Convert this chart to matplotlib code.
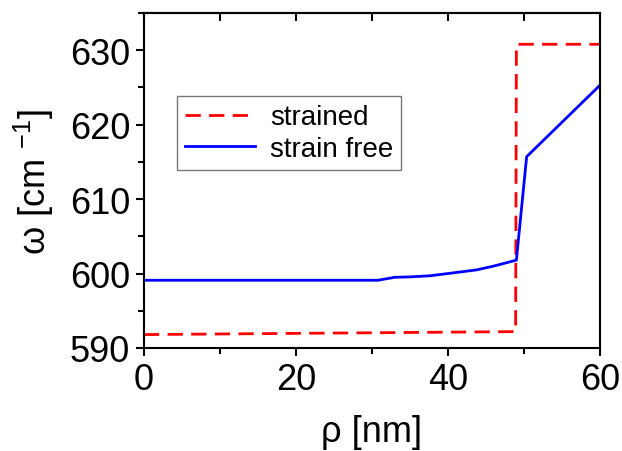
import matplotlib
matplotlib.use('Agg')
import matplotlib.pyplot as plt
from matplotlib.ticker import MultipleLocator

plt.rcParams['font.family'] = ['Liberation Sans', 'DejaVu Sans']
plt.rcParams['mathtext.fontset'] = 'custom'
plt.rcParams['mathtext.rm'] = 'Liberation Sans'
plt.rcParams['mathtext.it'] = 'Liberation Sans'

# strained (red dashed): step near rho ~ 49 nm
strained_rho = [0, 48.9, 49.0, 60]
strained_omega = [591.8, 592.2, 630.8, 630.8]

# strain free (blue solid)
free_rho = [0, 30.8, 33.0, 35.0, 37.6, 40.0, 43.8, 46.0, 49.0, 50.35, 60]
free_omega = [599.1, 599.1, 599.5, 599.55, 599.7, 600.0, 600.5, 601.0, 601.8, 615.7, 625.3]

fig = plt.figure(figsize=(6.22, 4.52), dpi=100)
ax = fig.add_axes([0.2315, 0.2279, 0.7331, 0.7411])

ax.plot(strained_rho, strained_omega, color='#ff0000', lw=2, dashes=(5.5, 3), label='strained')
ax.plot(free_rho, free_omega, color='#0000ff', lw=2, label='strain free')

ax.set_xlim(0, 60)
ax.set_ylim(590, 635)
ax.xaxis.set_major_locator(MultipleLocator(20))
ax.xaxis.set_minor_locator(MultipleLocator(10))
ax.yaxis.set_major_locator(MultipleLocator(10))
ax.yaxis.set_minor_locator(MultipleLocator(5))

for s in ax.spines.values():
    s.set_linewidth(1.5)

ax.tick_params(which='both', direction='out', width=1.5, labelsize=26, pad=4,
               top=False, right=False)
ax.tick_params(which='major', length=6)
ax.tick_params(which='minor', length=4)

# inward ticks on the top spine, like the original
sec = ax.secondary_xaxis('top')
sec.xaxis.set_major_locator(MultipleLocator(20))
sec.xaxis.set_minor_locator(MultipleLocator(10))
sec.tick_params(which='both', direction='in', width=1.5, length=6, labeltop=False)
sec.spines['top'].set_linewidth(1.5)

ax.set_xlabel('ρ [nm]', fontsize=26, labelpad=12)
ax.set_ylabel('ω [cm $^{-1}$]', fontsize=26, labelpad=10)

leg = ax.legend(loc='upper left', bbox_to_anchor=(0.072, 0.752), borderaxespad=0,
                fontsize=20, frameon=True, fancybox=False, handlelength=2.5,
                handletextpad=0.55, labelspacing=0.2, borderpad=0.3)
leg.get_frame().set_edgecolor('#555555')
leg.get_frame().set_linewidth(1.0)

fig.savefig('out.png', dpi=100)
